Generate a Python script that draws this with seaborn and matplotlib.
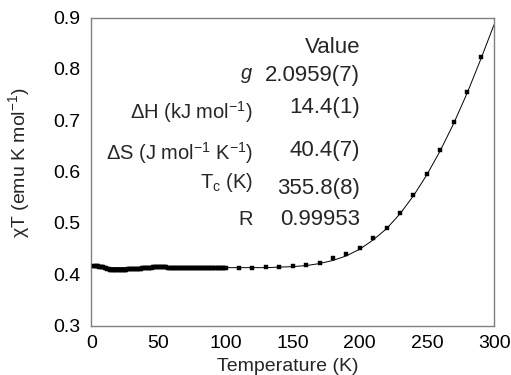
import numpy as np
import pandas as pd
import matplotlib
matplotlib.use("Agg")
import matplotlib.pyplot as plt
import seaborn as sns

# ---- data ----
T_low = list(range(2, 101))
chiT_low = [0.416, 0.416, 0.416, 0.416, 0.415, 0.415, 0.415, 0.414, 0.413,   # 2-10
            0.412, 0.411, 0.410, 0.409, 0.409, 0.409, 0.409, 0.409, 0.409, 0.409,  # 11-20
            0.409, 0.409, 0.409, 0.409, 0.409, 0.409, 0.410, 0.410, 0.410, 0.410,  # 21-30
            0.410, 0.411, 0.411, 0.411, 0.411, 0.411, 0.411, 0.412, 0.412, 0.412,  # 31-40
            0.412, 0.412, 0.413, 0.413, 0.413, 0.414, 0.414, 0.414, 0.415, 0.415,  # 41-50
            0.415, 0.415, 0.415, 0.414, 0.414, 0.414, 0.413, 0.413, 0.413, 0.413,  # 51-60
            0.413, 0.413, 0.412, 0.412, 0.412, 0.412, 0.412, 0.412, 0.412, 0.412,  # 61-70
            0.412, 0.412, 0.412, 0.412, 0.412, 0.412, 0.412, 0.412, 0.412, 0.412,  # 71-80
            0.412, 0.412, 0.412, 0.412, 0.413, 0.413, 0.413, 0.413, 0.413, 0.413,  # 81-90
            0.413, 0.413, 0.413, 0.413, 0.413, 0.413, 0.413, 0.413, 0.413, 0.413]  # 91-100
T_high = [110, 120, 130, 140, 150, 160, 170, 180, 190, 200, 210, 220, 230, 240, 250,
          260, 270, 280, 290]
chiT_high = [0.413, 0.413, 0.414, 0.415, 0.417, 0.419, 0.423, 0.431, 0.439, 0.452,
             0.471, 0.491, 0.520, 0.554, 0.596, 0.642, 0.696, 0.755, 0.824]
T_fit = [0, 20, 40, 60, 80, 100, 110, 120, 130, 140, 150, 160, 170, 180, 190, 200,
         210, 220, 230, 240, 250, 260, 270, 280, 290, 300]
chiT_fit = [0.413, 0.413, 0.413, 0.413, 0.413, 0.413, 0.413, 0.413, 0.413, 0.414,
            0.415, 0.417, 0.421, 0.427, 0.436, 0.449, 0.467, 0.489, 0.518, 0.553,
            0.594, 0.641, 0.694, 0.753, 0.818, 0.886]
x_ticks = [0, 50, 100, 150, 200, 250, 300]
y_ticks = [0.3, 0.4, 0.5, 0.6, 0.7, 0.8, 0.9]
param_labels = ["$g$", "ΔH (kJ mol$^{-1}$)", "ΔS (J mol$^{-1}$ K$^{-1}$)",
                "T$_{\\mathrm{c}}$ (K)", "R"]
param_values = ["2.0959(7)", "14.4(1)", "40.4(7)", "355.8(8)", "0.99953"]

sns.set_style("white")
plt.rcParams["font.family"] = ["Liberation Sans", "DejaVu Sans"]
plt.rcParams["mathtext.fontset"] = "custom"
plt.rcParams["mathtext.rm"] = "Liberation Sans"
plt.rcParams["mathtext.it"] = "Liberation Sans:italic"

fig = plt.figure(figsize=(5.11, 3.75), dpi=100)
ax = fig.add_axes([0.1787, 0.1315, 0.7881, 0.8218])

fit_df = pd.DataFrame({"T": T_fit, "chiT": chiT_fit})
sns.lineplot(data=fit_df, x="T", y="chiT", ax=ax, color="black", linewidth=0.7)
data_df = pd.DataFrame({"T": T_low + T_high, "chiT": chiT_low + chiT_high})
sns.scatterplot(data=data_df, x="T", y="chiT", ax=ax, marker="s", s=10,
                color="black", edgecolor="black", linewidth=0.3, zorder=3)

ax.set_xlim(0, 300)
ax.set_ylim(0.3, 0.9)
ax.set_xticks(x_ticks)
ax.set_yticks(y_ticks)
ax.set_xticklabels([str(v) for v in x_ticks])
ax.set_yticklabels([f"{v:.1f}" for v in y_ticks])
ax.tick_params(axis="x", length=0, labelsize=14, pad=7, colors="black")
ax.tick_params(axis="y", length=0, labelsize=14, pad=8, colors="black")
for sp in ax.spines.values():
    sp.set_color("#808080")
    sp.set_linewidth(1.0)
ax.set_xlabel("Temperature (K)", fontsize=14)
ax.set_ylabel("χT (emu K mol$^{-1}$)", fontsize=14)
ax.xaxis.set_label_coords(0.488, -0.105)
ax.yaxis.set_label_coords(-0.148, 0.528)

# table of fit parameters
ax.text(200.2, 0.8425, "Value", ha="right", va="center", fontsize=16)
label_y = [0.788, 0.716, 0.636, 0.578, 0.506]
value_y = [0.788, 0.724, 0.642, 0.568, 0.506]
for lab, val, ly, vy in zip(param_labels, param_values, label_y, value_y):
    ax.text(120.5, ly, lab, ha="right", va="center", fontsize=14.5)
    ax.text(200.2, vy, val, ha="right", va="center", fontsize=16)

fig.savefig("out.png", dpi=100)
